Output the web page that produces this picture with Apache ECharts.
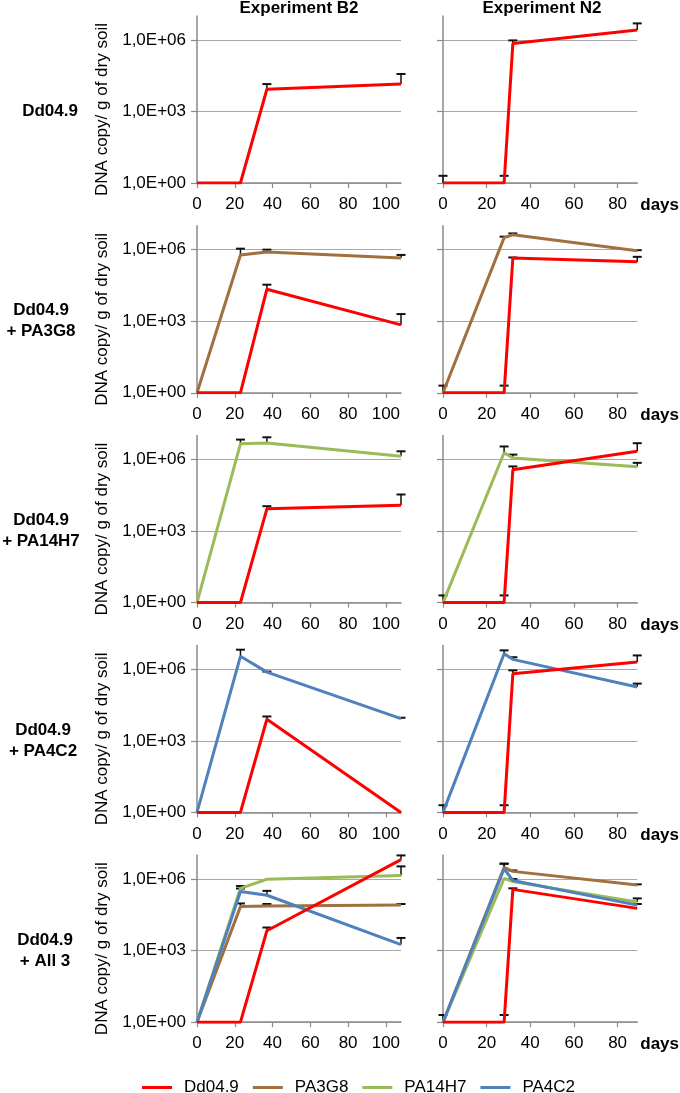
<!DOCTYPE html>
<html><head><meta charset="utf-8">
<script src="https://cdn.jsdelivr.net/npm/echarts@6/dist/echarts.min.js"></script>
<style>html,body{margin:0;padding:0;background:#fff}#c{width:680px;height:1093px}</style>
</head><body><div id="c"></div>
<script>
// ---------- data ----------
const seriesNames = ['Dd04.9', 'PA3G8', 'PA14H7', 'PA4C2'];
const columnTitles = ['Experiment B2', 'Experiment N2'];
const rowLabels = [['Dd04.9'], ['Dd04.9', '+ PA3G8'], ['Dd04.9', '+ PA14H7'], ['Dd04.9', '+ PA4C2'], ['Dd04.9', '+ All 3']];
const daysB2 = [0, 23, 37, 108];
const daysN2 = [0, 28, 32, 89];
const yTickValues = [1, 1e3, 1e6];
const xTicksB2 = [0, 20, 40, 60, 80, 100];
const xTicksN2 = [0, 20, 40, 60, 80];
const xAxisName = 'days';
const yAxisName = 'DNA copy/ g of dry soil';

// Row 1: Dd04.9
const r1B2_Dd = [1, 1, 8.5e3, 1.4e4];       const r1B2_DdErr = [null, null, 1.4e4, 3.7e4];
const r1N2_Dd = [1, 1, 7e5, 2.6e6];         const r1N2_DdErr = [2, 2, 9.5e5, 4.9e6];
// Row 2: Dd04.9 + PA3G8
const r2B2_PA3G8 = [1, 6e5, 8e5, 4.5e5];    const r2B2_PA3G8Err = [null, 1.1e6, 1e6, 6e5];
const r2B2_Dd = [1, 1, 2.2e4, 700];         const r2B2_DdErr = [null, null, 3.4e4, 2e3];
const r2N2_PA3G8 = [1, 3.2e6, 4.2e6, 9e5];  const r2N2_PA3G8Err = [2, 3.5e6, 4.8e6, 9.5e5];
const r2N2_Dd = [1, 1, 4.5e5, 3.1e5];       const r2N2_DdErr = [null, 2, 4.7e5, 5e5];
// Row 3: Dd04.9 + PA14H7
const r3B2_PA14H7 = [1, 4.5e6, 4.9e6, 1.35e6]; const r3B2_PA14H7Err = [null, 6.8e6, 8.5e6, 2.2e6];
const r3B2_Dd = [1, 1, 8.5e3, 1.2e4];          const r3B2_DdErr = [null, null, 1.1e4, 3.4e4];
const r3N2_PA14H7 = [1, 1.9e6, 1.15e6, 5e5];   const r3N2_PA14H7Err = [2, 3.5e6, 1.6e6, 7.2e5];
const r3N2_Dd = [1, 1, 3.7e5, 2.2e6];          const r3N2_DdErr = [null, 2, 5.1e5, 4.8e6];
// Row 4: Dd04.9 + PA4C2
const r4B2_PA4C2 = [1, 3.5e6, 7.6e5, 8.5e3];   const r4B2_PA4C2Err = [null, 6.6e6, 8e5, 9.3e3];
const r4B2_Dd = [1, 1, 8e3, 1];                const r4B2_DdErr = [null, null, 1.05e4, null];
const r4N2_PA4C2 = [1, 4.5e6, 2.6e6, 1.8e5];   const r4N2_PA4C2Err = [2, 6.2e6, 3.2e6, 2.5e5];
const r4N2_Dd = [1, 1, 6.5e5, 2e6];            const r4N2_DdErr = [null, 2, 9e5, 3.8e6];
// Row 5: Dd04.9 + All 3
const r5B2_PA3G8 = [1, 7e4, 7.4e4, 8.1e4];     const r5B2_PA3G8Err = [null, 9.5e4, 9e4, 9e4];
const r5B2_PA14H7 = [1, 4.1e5, 9.8e5, 1.4e6];  const r5B2_PA14H7Err = [null, 5.1e5, null, 3.4e6];
const r5B2_PA4C2 = [1, 3e5, 2.1e5, 1.8e3];     const r5B2_PA4C2Err = [null, 4e5, 3.2e5, 3.4e3];
const r5B2_Dd = [1, 1, 6.8e3, 6.5e6];          const r5B2_DdErr = [null, null, 9.3e3, 9.8e6];
const r5N2_PA3G8 = [1, 3.1e6, 2.1e6, 5.6e5];   const r5N2_PA3G8Err = [null, 4.4e6, 2.3e6, 6e5];
const r5N2_PA14H7 = [1, 1.07e6, 7.8e5, 1.1e5]; const r5N2_PA14H7Err = [null, null, null, 1.55e5];
const r5N2_PA4C2 = [1, 2.7e6, 8.7e5, 8.1e4];   const r5N2_PA4C2Err = [2, 4.4e6, 1e6, 9e4];
const r5N2_Dd = [1, 1, 3.7e5, 5.9e4];          const r5N2_DdErr = [null, 2, 4.1e5, null];

// ---------- styling / layout ----------
const colorMap = { 'Dd04.9': '#ff0000', 'PA3G8': '#a0703f', 'PA14H7': '#9bbb59', 'PA4C2': '#4f81bd' };
const FONT = 'Liberation Sans, Arial, sans-serif';
const AXIS_COLOR = '#8a8a8a';
const GRID_COLOR = '#a8a8a8';

const panels = [
  { row: 0, col: 0, lines: [['Dd04.9', r1B2_Dd, r1B2_DdErr]] },
  { row: 0, col: 1, lines: [['Dd04.9', r1N2_Dd, r1N2_DdErr]] },
  { row: 1, col: 0, lines: [['PA3G8', r2B2_PA3G8, r2B2_PA3G8Err], ['Dd04.9', r2B2_Dd, r2B2_DdErr]] },
  { row: 1, col: 1, lines: [['PA3G8', r2N2_PA3G8, r2N2_PA3G8Err], ['Dd04.9', r2N2_Dd, r2N2_DdErr]] },
  { row: 2, col: 0, lines: [['PA14H7', r3B2_PA14H7, r3B2_PA14H7Err], ['Dd04.9', r3B2_Dd, r3B2_DdErr]] },
  { row: 2, col: 1, lines: [['PA14H7', r3N2_PA14H7, r3N2_PA14H7Err], ['Dd04.9', r3N2_Dd, r3N2_DdErr]] },
  { row: 3, col: 0, lines: [['PA4C2', r4B2_PA4C2, r4B2_PA4C2Err], ['Dd04.9', r4B2_Dd, r4B2_DdErr]] },
  { row: 3, col: 1, lines: [['PA4C2', r4N2_PA4C2, r4N2_PA4C2Err], ['Dd04.9', r4N2_Dd, r4N2_DdErr]] },
  { row: 4, col: 0, lines: [['PA3G8', r5B2_PA3G8, r5B2_PA3G8Err], ['PA14H7', r5B2_PA14H7, r5B2_PA14H7Err], ['PA4C2', r5B2_PA4C2, r5B2_PA4C2Err], ['Dd04.9', r5B2_Dd, r5B2_DdErr]] },
  { row: 4, col: 1, lines: [['PA3G8', r5N2_PA3G8, r5N2_PA3G8Err], ['PA14H7', r5N2_PA14H7, r5N2_PA14H7Err], ['PA4C2', r5N2_PA4C2, r5N2_PA4C2Err], ['Dd04.9', r5N2_Dd, r5N2_DdErr]] }
];

const ROW_TOP0 = 16, ROW_STEP = 209.8, PLOT_H = 167;
const colLeft = [197, 443], colWidth = [204, 198];
const rowLabelX = [50, 41, 41, 43, 45];

const grids = [], xAxes = [], yAxes = [], series = [], graphics = [];

function expLabel(v) {
  const e = Math.round(Math.log10(v));
  return '1,0E+' + (e < 10 ? '0' : '') + e;
}

panels.forEach((p, i) => {
  const top = ROW_TOP0 + ROW_STEP * p.row;
  const days = p.col === 0 ? daysB2 : daysN2;
  grids.push({ left: colLeft[p.col], top: top, width: colWidth[p.col], height: PLOT_H });
  const xt = p.col === 0 ? xTicksB2 : xTicksN2;
  xAxes.push({
    type: 'value', gridIndex: i, min: 0, max: days[days.length - 1],
    name: p.col === 1 ? xAxisName : '', nameLocation: 'end', nameGap: 3,
    nameTextStyle: { fontFamily: FONT, fontSize: 17, fontWeight: 'bold', color: '#000', verticalAlign: 'top', padding: [14, 0, 0, 0] },
    axisLine: { show: true, onZero: false, lineStyle: { color: AXIS_COLOR, width: 1.5 } },
    axisTick: { show: true, length: 5, customValues: xt, lineStyle: { color: AXIS_COLOR, width: 1.2 } },
    axisLabel: { show: true, customValues: xt, margin: 13, fontFamily: FONT, fontSize: 17, color: '#000' },
    splitLine: { show: false }
  });
  yAxes.push({
    type: 'log', logBase: 10, gridIndex: i, min: 1, max: 1e7,
    name: p.col === 0 ? yAxisName : '', nameLocation: 'middle', nameGap: 86,
    nameTextStyle: { fontFamily: FONT, fontSize: 17, color: '#000', padding: [0, 20, 0, 0] },
    axisLine: { show: true, lineStyle: { color: AXIS_COLOR, width: 1.5 } },
    axisTick: { show: true, length: 6, customValues: yTickValues, lineStyle: { color: AXIS_COLOR, width: 1.2 } },
    axisLabel: { show: p.col === 0, customValues: yTickValues, margin: 11, fontFamily: FONT, fontSize: 17, color: '#000', formatter: expLabel },
    splitLine: { show: true, lineStyle: { color: GRID_COLOR, width: 1 } }
  });
  p.lines.forEach(([name, vals, errs]) => {
    const color = colorMap[name];
    series.push({
      type: 'line', name: name, xAxisIndex: i, yAxisIndex: i,
      data: days.map((d, k) => [d, vals[k]]),
      showSymbol: false, symbol: 'none', smooth: false, z: 3,
      lineStyle: { color: color, width: 3 }, itemStyle: { color: color },
      emphasis: { disabled: true }
    });
    const errData = [];
    days.forEach((d, k) => { if (errs[k] != null) errData.push([d, vals[k], errs[k]]); });
    series.push({
      type: 'custom', xAxisIndex: i, yAxisIndex: i, z: 2, silent: true, clip: false,
      data: errData, encode: { x: 0, y: [1, 2] },
      renderItem: function (params, api) {
        const p0 = api.coord([api.value(0), api.value(1)]);
        const p1 = api.coord([api.value(0), api.value(2)]);
        return { type: 'group', children: [
          { type: 'line', shape: { x1: p0[0], y1: p0[1], x2: p1[0], y2: p1[1] }, style: { stroke: '#111', lineWidth: 1.5 } },
          { type: 'line', shape: { x1: p1[0] - 4.5, y1: p1[1], x2: p1[0] + 4.5, y2: p1[1] }, style: { stroke: '#111', lineWidth: 2 } }
        ] };
      }
    });
  });
});

// column titles
columnTitles.forEach((t, c) => {
  graphics.push({ type: 'text', x: colLeft[c] + colWidth[c] / 2, y: 8,
    style: { text: t, font: 'bold 17px ' + FONT, fill: '#000', textAlign: 'center', textVerticalAlign: 'middle' } });
});
// row labels (centred at the 1,0E+03 gridline)
rowLabels.forEach((lines, r) => {
  const bottom = ROW_TOP0 + ROW_STEP * r + PLOT_H;
  const cy = bottom - PLOT_H * 3 / 7;
  graphics.push({ type: 'text', x: rowLabelX[r], y: cy,
    style: { text: lines.join('\n'), font: 'bold 17px ' + FONT, lineHeight: 21, fill: '#000', textAlign: 'center', textVerticalAlign: 'middle' } });
});

const option = {
  animation: false,
  backgroundColor: '#fff',
  grid: grids, xAxis: xAxes, yAxis: yAxes, series: series,
  graphic: graphics,
  legend: {
    data: seriesNames, left: 137, top: 1074, itemWidth: 30, itemHeight: 3, itemGap: 14, icon: 'rect',
    selectedMode: false,
    textStyle: { fontFamily: FONT, fontSize: 17, color: '#000', padding: [0, 0, 0, 7] }
  }
};
const chart = echarts.init(document.getElementById('c'), null, { renderer: 'canvas' });
chart.setOption(option);
</script></body></html>
